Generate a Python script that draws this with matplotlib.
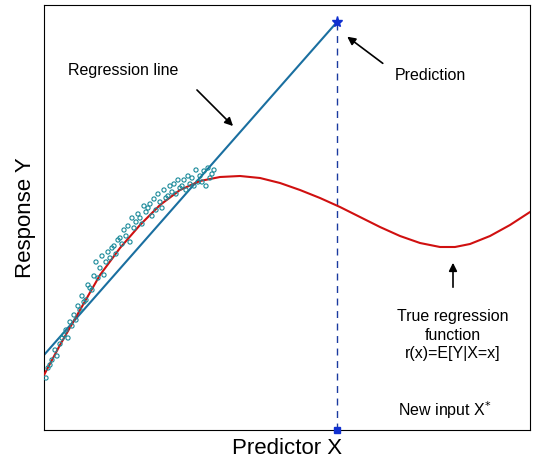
import matplotlib
matplotlib.use("Agg")
import matplotlib.pyplot as plt
plt.rcParams['font.family'] = ['Liberation Sans', 'DejaVu Sans']

# data in pixel-like coordinates (x right, y from bottom of image)
curve_x = [44,60,80,100,120,140,160,180,200,220,240,260,280,300,320,340,360,380,400,420,440,455,470,490,510,530]
curve_py = [375,345,310,275,248,225,205,190,181,177,176,178,183,190,198,207,217,227,236,243,247,247,244,236,225,212]
sx = [46,48,50,52,55,57,60,62,64,66,68,70,72,74,76,78,80,82,84,86,88,90,92,94,96,98,100,102,104,106,108,110,112,114,116,118,120,122,124,126,128,130,132,134,136,138,140,142,144,146,148,150,152,154,156,158,160,162,164,166,168,170,172,174,176,178,180,182,184,186,188,190,192,194,196,198,200,202,204,206,208,210,212,214]
spy = [378,368,365,360,350,356,344,338,335,330,338,322,326,315,320,306,310,296,302,300,285,288,290,276,262,278,268,256,275,262,252,258,248,246,254,240,238,244,230,236,226,242,218,228,222,214,218,224,206,212,208,204,216,199,210,194,202,208,190,198,196,186,192,184,194,180,188,186,180,190,176,184,178,186,170,182,176,182,171,186,168,178,174,170]
reg_x = [44, 337]
reg_py = [355, 22]
pred_x = 337
pred_py = 22
H = 473
cy = [H-v for v in curve_py]
sy = [H-v for v in spy]
ry = [H-v for v in reg_py]

fig = plt.figure(figsize=(5.4, 4.73), dpi=100)
ax = fig.add_axes([44/540, 43/473, 486/540, 425/473])
ax.set_xlim(44, 530); ax.set_ylim(43, 468)
ax.set_xticks([]); ax.set_yticks([])
ax.plot(reg_x, ry, color='#1a6fa0', lw=1.5, zorder=2)
ax.plot(curve_x, cy, color='#d01010', lw=1.5, zorder=3)
ax.scatter(sx, sy, s=9, facecolors='none', edgecolors='#1a8a9a', lw=0.8, zorder=4)
ax.plot([pred_x, pred_x], [43, H-pred_py], color='#1a3aa0', lw=1, ls=(0,(5,4)), zorder=1)
ax.plot(pred_x, H-pred_py, marker='*', color='#1030d0', ms=8, zorder=5, clip_on=False)
ax.plot(pred_x, 43, marker='s', color='#1030d0', ms=5, zorder=5, clip_on=False)

ap = dict(arrowstyle='-|>', color='black', lw=1.2, mutation_scale=12)
ax.text(68, H-70, 'Regression line', fontsize=11.5, va='center')
ax.annotate('', xy=(235, H-128), xytext=(195, H-88), arrowprops=ap)
ax.text(395, H-75, 'Prediction', fontsize=11.5, va='center')
ax.annotate('', xy=(345, H-35), xytext=(385, H-65), arrowprops=ap)
ax.text(453, H-335, 'True regression\nfunction\nr(x)=E[Y|X=x]', fontsize=11.5, ha='center', va='center', linespacing=1.3)
ax.annotate('', xy=(453, H-260), xytext=(453, H-290), arrowprops=ap)
ax.text(398, H-410, r'New input X$^{*}$', fontsize=11.5, ha='left', va='center')
ax.set_xlabel('Predictor X', fontsize=16, labelpad=6)
ax.set_ylabel('Response Y', fontsize=16, labelpad=6)
fig.savefig('out.png', dpi=100)
